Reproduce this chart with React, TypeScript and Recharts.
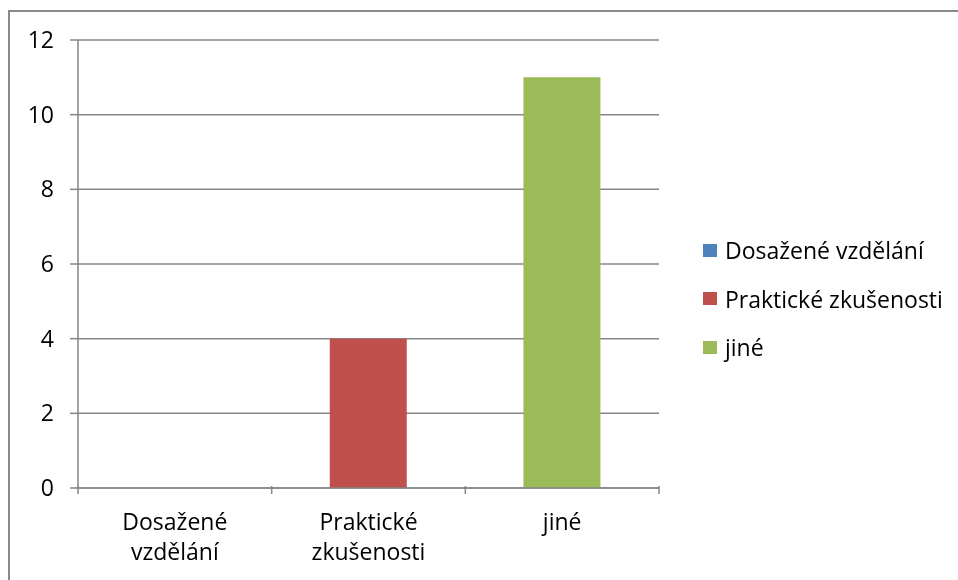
import React from "react";
import { BarChart, Bar, XAxis, YAxis, CartesianGrid } from "recharts";

const categories = ["Dosažené vzdělání", "Praktické zkušenosti", "jiné"];
const seriesNames = ["Dosažené vzdělání", "Praktické zkušenosti", "jiné"];
const seriesValues = [0, 4, 11];
const seriesColors = ["#4f81bd", "#c0504d", "#9bbb59"];
const yTicks = [0, 2, 4, 6, 8, 10, 12];

// one row per category, the matching series carries the value, others stay empty
const data = categories.map((c, i) => {
  const row: Record<string, string | number> = { name: c };
  seriesNames.forEach((s, j) => {
    row["s" + j] = i === j ? seriesValues[j] : 0;
  });
  return row;
});

const FONT = "'Open Sans', sans-serif";
const FS = 23;
const GRID = "#868686";
const BAND = 581 / 3;

function CatTick(props: any) {
  const { x, y, payload, index } = props;
  const words = String(payload.value).split(" ");
  return (
    <g>
      <line x1={x - BAND / 2} x2={x - BAND / 2} y1={y - 10} y2={y - 2} stroke={GRID} strokeWidth={1.5} />
      {index === categories.length - 1 && (
        <line x1={x + BAND / 2} x2={x + BAND / 2} y1={y - 10} y2={y - 2} stroke={GRID} strokeWidth={1.5} />
      )}
      <text x={x} y={y + 34} textAnchor="middle" fill="#000" fontSize={FS} fontFamily={FONT}>
        {words.map((w, i) => (
          <tspan key={i} x={x} dy={i === 0 ? 0 : 30}>
            {w}
          </tspan>
        ))}
      </text>
    </g>
  );
}

function LegendBox() {
  return (
    <div style={{ position: "absolute", left: 693, top: 214, fontFamily: FONT, fontSize: FS, color: "#000", whiteSpace: "nowrap" }}>
      {seriesNames.map((s, i) => (
        <div key={s} style={{ display: "flex", alignItems: "center", height: 48.5 }}>
          <span style={{ width: 14, height: 13, background: seriesColors[i], marginRight: 8, display: "inline-block" }} />
          <span>{s}</span>
        </div>
      ))}
    </div>
  );
}

export default function App() {
  return (
    <div
      style={{
        position: "fixed",
        left: 8,
        top: 10,
        width: 950,
        height: 570,
        overflow: "hidden",
        borderTop: "2px solid #898989",
        borderLeft: "2px solid #898989",
        boxSizing: "border-box",
      }}
    >
      <BarChart width={960} height={570} data={data} margin={{ top: 28, right: 311, left: 8, bottom: 34 }} barCategoryGap="30%">
        <CartesianGrid vertical={false} stroke={GRID} strokeWidth={1.5} />
        <XAxis dataKey="name" axisLine={{ stroke: GRID, strokeWidth: 1.5 }} tickLine={false} tick={<CatTick />} height={60} interval={0} />
        <YAxis
          domain={[0, 12]}
          ticks={yTicks}
          width={60}
          axisLine={{ stroke: GRID, strokeWidth: 1.5 }}
          tickLine={{ stroke: GRID, strokeWidth: 1.5 }}
          tickSize={8}
          tickMargin={16}
          tick={{ fill: "#000", fontSize: FS, fontFamily: FONT }}
        />
        {seriesNames.map((s, j) => (
          <Bar key={s} dataKey={"s" + j} name={s} stackId="a" fill={seriesColors[j]} isAnimationActive={false} />
        ))}
      </BarChart>
      <LegendBox />
    </div>
  );
}
